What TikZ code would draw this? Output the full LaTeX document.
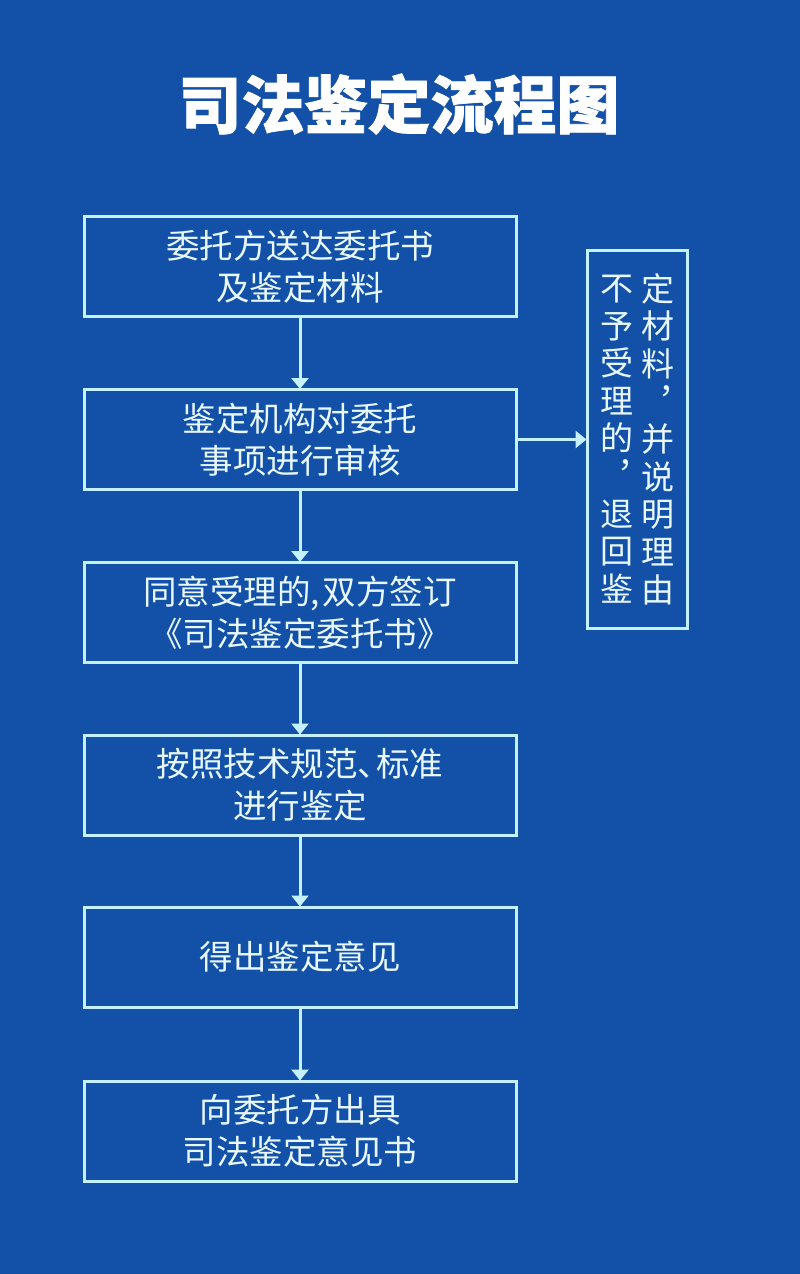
\documentclass[tikz,border=0pt]{standalone}
\usepackage{fontspec}
\setmainfont{Noto Sans CJK SC}
\newfontfamily\cjk{Noto Sans CJK SC}
\newfontfamily\titlef[BoldFeatures={FakeBold=1.2}]{Noto Sans CJK SC}
\usetikzlibrary{arrows.meta}
\definecolor{bg}{HTML}{1351A8}
\definecolor{ln}{HTML}{C4F0FF}
\definecolor{tx}{HTML}{E8F8FF}
\newcommand{\vcol}[1]{\parbox{34pt}{\centering\fontsize{33}{37.6}\selectfont #1}}
\begin{document}
\begin{tikzpicture}[x=1pt,y=-1pt,
  stepbox/.style={draw=ln,line width=3pt,minimum width=432pt,minimum height=100pt,
    inner sep=0pt,align=center,text=tx,font=\cjk\fontsize{33.5}{42}\selectfont},
  flow/.style={draw=ln,line width=3pt,-{Triangle[width=17pt,length=11pt]},shorten >=-1pt}]
\fill[bg] (0,0) rectangle (800,1274);
\useasboundingbox (0,0) rectangle (800,1274);
\node[text=white,font=\titlef\bfseries\fontsize{63}{70}\selectfont] (title) at (399,104) {司法鉴定流程图};
\node[stepbox] (b1) at (300,266.5) {委托方送达委托书\\及鉴定材料};
\node[stepbox] (b2) at (300,439.5) {鉴定机构对委托\\事项进行审核};
\node[stepbox] (b3) at (300,612.5) {同意受理的,\kern3pt 双方签订\\《司法鉴定委托书》};
\node[stepbox] (b4) at (300,785) {按照技术规范、\kern-15pt 标准\\进行鉴定};
\node[stepbox] (b5) at (300,957) {得出鉴定意见};
\node[stepbox] (b6) at (300,1131) {向委托方出具\\司法鉴定意见书};
\node[draw=ln,line width=3pt,minimum width=100pt,minimum height=378pt,inner sep=0pt,text=tx,font=\cjk] (rb) at (637,439)
  {\begin{tabular}{@{}c@{\hspace{7pt}}c@{}}
   \vcol{不\\予\\受\\理\\的\\︐\\退\\回\\鉴} & \vcol{定\\材\\料\\︐\\并\\说\\明\\理\\由}
   \end{tabular}};
\draw[flow] (b1) -- (b2);
\draw[flow] (b2) -- (b3);
\draw[flow] (b3) -- (b4);
\draw[flow] (b4) -- (b5);
\draw[flow] (b5) -- (b6);
\draw[flow] (b2.east) -- (rb.west|-b2.east);
\end{tikzpicture}
\end{document}
